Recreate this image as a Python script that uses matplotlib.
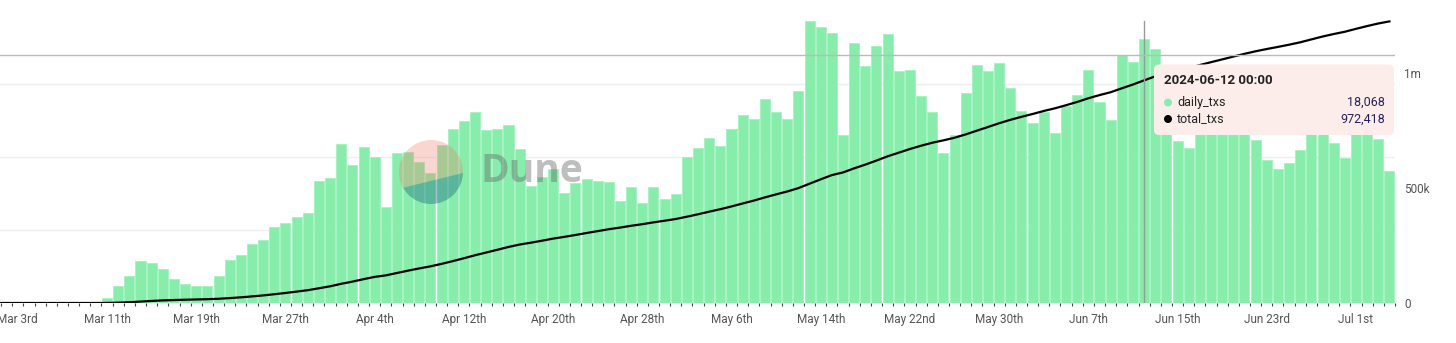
import numpy as np
import pandas as pd
import matplotlib
matplotlib.use("Agg")
import matplotlib.pyplot as plt
import matplotlib.dates as mdates
from matplotlib.patches import Circle, Polygon, FancyBboxPatch

# daily transactions, 2024-03-01 .. 2024-07-04
daily_txs = [
    0, 0, 0, 0, 0, 0, 0, 0, 0, 0,
    # Mar 11 - Mar 31
    320, 1160, 1850, 2880, 2740, 2310, 1660, 1280, 1180, 1160, 1850,
    2960, 3270, 4020, 4330, 5180, 5460, 5890, 6160, 8370, 8540,
    # April
    10880, 9450, 10680, 9990, 6570, 10270, 10340, 9630, 8920, 10820,
    11910, 12460, 13100, 11860, 11930, 12210, 10560, 8010, 8600, 9170,
    7550, 8240, 8510, 8330, 8260, 6980, 7960, 6850, 7960, 7120,
    # May
    7480, 10010, 10590, 11320, 10750, 11930, 12870, 12600, 13990, 13100,
    12600, 14530, 19300, 18910, 18480, 11500, 17820, 16220, 17610, 18410,
    15880, 15970, 14190, 13050, 10270, 11500, 14380, 16310, 15880, 16430, 14720,
    # June
    13160, 12320, 13050, 11620, 13510, 14240, 15930, 13780, 12550, 16980,
    16500, 18068, 17370, 14500, 11110, 10630, 13000, 12500, 12000, 12300,
    11900, 11140, 9790, 9170, 9600, 10470, 12600, 12400, 10970, 9900,
    # July
    12700, 12000, 11210, 9040,
]
dates = pd.date_range("2024-03-01", periods=len(daily_txs), freq="D")
total_txs = np.cumsum(daily_txs)

tick_dates = pd.date_range("2024-03-03", periods=16, freq="8D")
tick_labels = ["Mar 3rd", "Mar 11th", "Mar 19th", "Mar 27th", "Apr 4th", "Apr 12th",
               "Apr 20th", "Apr 28th", "May 6th", "May 14th", "May 22nd", "May 30th",
               "Jun 7th", "Jun 15th", "Jun 23rd", "Jul 1st"]
right_ticks = [0, 500000, 1000000]
right_labels = ["0", "500k", "1m"]

hover_date = pd.Timestamp("2024-06-12")
hover_title = "2024-06-12 00:00"
hover_daily = "18,068"
hover_total = "972,418"

BAR = "#86EDAA"
GREY = "#555555"
FONT = "Roboto"

W, H = 1456, 343
fig = plt.figure(figsize=(W / 100, H / 100), dpi=100)
fig.patch.set_facecolor("white")

ax = fig.add_axes([0, 40 / H, 1395 / W, 292 / H])
ax2 = ax.twinx()

x = mdates.date2num(dates)
ax.bar(x, daily_txs, width=0.9, color=BAR, edgecolor="#A4F2C0", linewidth=0.6, zorder=2)
for g in [5000, 10000, 15000]:
    ax.axhline(g, color="#EFEFEF", lw=1, zorder=1)

ax.set_ylim(0, 20000)
ax.set_xlim(mdates.date2num(pd.Timestamp("2024-03-03")) - 1.6,
            mdates.date2num(dates[-1]) + 0.5)

ax.set_xticks(mdates.date2num(tick_dates))
ax.set_xticklabels(tick_labels)
ax.set_xticks(x + 0.5, minor=True)
ax.tick_params(axis="x", which="major", length=0, pad=7, labelsize=8.5, labelcolor=GREY)
ax.tick_params(axis="x", which="minor", length=2.5, width=0.8, color="#444444")
ax.tick_params(axis="y", left=False, labelleft=False)
for lbl in ax.get_xticklabels():
    lbl.set_fontfamily(FONT)

ax2.plot(x, total_txs, color="black", lw=1.6, zorder=3)
ax2.set_ylim(0, 292 * 500000 / 115)
ax2.set_yticks(right_ticks)
ax2.set_yticklabels(right_labels)
ax2.tick_params(axis="y", length=0, pad=6.5, labelsize=8.5, labelcolor=GREY)
for lbl in ax2.get_yticklabels():
    lbl.set_fontfamily(FONT)

# crosshair of the hover pointer
hx = mdates.date2num(hover_date)
ax2.plot([hx, hx], [0, 282 / 292], color="#9A9A9A", lw=1, zorder=4,
         transform=ax2.get_xaxis_transform())
ax2.plot([0, 1], [248 / 292, 248 / 292], color="#BBBBBB", lw=1, zorder=4,
         transform=ax2.transAxes)

for a in (ax, ax2):
    for s in a.spines.values():
        s.set_visible(False)

# overlay in pixel space for the watermark and tooltip
ov = fig.add_axes([0, 0, 1, 1])
ov.set_xlim(0, W)
ov.set_ylim(H, 0)
ov.axis("off")

circ = Circle((431, 172), 32, facecolor="none", edgecolor="none")
ov.add_patch(circ)
top = Polygon([(390, 120), (475, 120), (475, 170), (390, 191)], closed=True,
              facecolor="#F07A64", alpha=0.3, edgecolor="none")
bot = Polygon([(390, 191), (475, 170), (475, 220), (390, 220)], closed=True,
              facecolor="#1E6A86", alpha=0.42, edgecolor="none")
for p in (top, bot):
    ov.add_patch(p)
    p.set_clip_path(circ)
ov.text(481, 172, "Dune", fontsize=28, fontweight="bold", family="Open Sans",
        color="#666666", alpha=0.42, ha="left", va="center")

box = FancyBboxPatch((1154, 64.5), 240, 70.5, boxstyle="round,pad=0,rounding_size=5",
                     facecolor="#FDEDEA", edgecolor="none")
ov.add_patch(box)
ov.text(1164, 80, hover_title, fontsize=9.5, fontweight="bold", family=FONT,
        color="#222222", ha="left", va="center")
rows = [("daily_txs", hover_daily, BAR, 102.5), ("total_txs", hover_total, "black", 119)]
for name, val, col, yy in rows:
    ov.add_patch(Circle((1168, yy), 4, facecolor=col, edgecolor="none"))
    ov.text(1177, yy, name, fontsize=9, family=FONT, color="#222222", ha="left", va="center")
    ov.text(1385, yy, val, fontsize=9, family=FONT, color="#24225C", ha="right", va="center")

fig.savefig("out.png", dpi=100, facecolor="white")
